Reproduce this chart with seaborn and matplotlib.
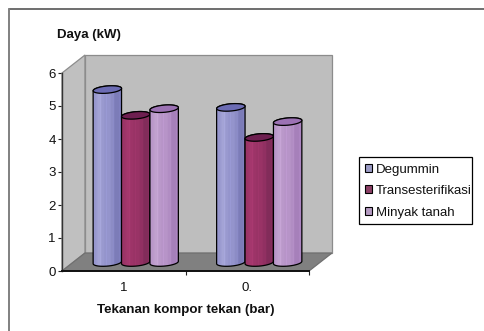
import numpy as np
import pandas as pd
import matplotlib
matplotlib.use("Agg")
import matplotlib.pyplot as plt
import matplotlib.colors as mcolors
import seaborn as sns
from matplotlib.patches import Polygon, PathPatch, Rectangle
from matplotlib.path import Path
from matplotlib.lines import Line2D
from matplotlib.transforms import IdentityTransform

pressures = ["1", "0."]
series_names = ["Degummin", "Transesterifikasi", "Minyak tanah"]
degummin = [5.24, 4.70]
transesterifikasi = [4.46, 3.79]
minyak_tanah = [4.66, 4.27]

base_colors = ["#9494CC", "#993366", "#B794C8"]
light_colors = ["#A4A4D6", "#A5386E", "#C2A2D0"]
dark_colors = ["#7C7CB8", "#822C5A", "#A680BA"]
cap_colors = ["#6C6CB4", "#6E1F50", "#9C72B4"]

sns.set_theme(style="white")
plt.rcParams["font.family"] = ["Liberation Sans", "DejaVu Sans"]

df = pd.DataFrame({
    "tekanan": pressures * 3,
    "seri": np.repeat(series_names, 2),
    "daya": degummin + transesterifikasi + minyak_tanah,
})

W, H = 484, 331
fig = plt.figure(figsize=(W / 100, H / 100), dpi=100, facecolor="white")
ax = fig.add_axes([62 / W, (H - 271) / H, (309 - 62) / W, 198 / H])
ax.patch.set_alpha(0)

sns.barplot(data=df, x="tekanan", y="daya", hue="seri", order=pressures,
            hue_order=series_names, palette=base_colors, width=0.69, gap=0,
            edgecolor="black", linewidth=0.8, ax=ax, zorder=3)
ax.set_xlim(-0.5, 1.5)
ax.set_ylim(0, 6)
fig.canvas.draw()

# Chart box: only the top and left edges fall inside the canvas
fig.add_artist(Line2D([9 / W, 1], [(H - 8.5) / H] * 2, color="#555555", lw=1.2))
fig.add_artist(Line2D([9 / W, 9 / W], [0, (H - 8.5) / H], color="#808080", lw=1.4))

# Depth of the 3D box in pixels
depth_x, depth_y = 23, 18
to_px = ax.transData.frozen().transform
x0, y0 = to_px((-0.5, 0))
x1, y1 = to_px((1.5, 6))
ident = IdentityTransform()

wall_edge = "#8C8C8C"
box_faces = [
    ([(x0, y0), (x0 + depth_x, y0 + depth_y), (x0 + depth_x, y1 + depth_y), (x0, y1)], "#C0C0C0", wall_edge),
    ([(x0 + depth_x, y0 + depth_y), (x1 + depth_x, y0 + depth_y), (x1 + depth_x, y1 + depth_y), (x0 + depth_x, y1 + depth_y)], "#BEBEBE", wall_edge),
    ([(x0, y0), (x1, y0), (x1 + depth_x, y0 + depth_y), (x0 + depth_x, y0 + depth_y)], "#808080", "#707070"),
]
for pts, face, edge in box_faces:
    ax.add_patch(Polygon(pts, closed=True, facecolor=face, edgecolor=edge, linewidth=0.9,
                         transform=ident, clip_on=False, zorder=1))

# Cylinders stand mid-way into the box, so their feet sit up and to the right
shift_x, shift_y = 12, 8.5
ell_h = 3.6
tilt = 1.2


def ellipse_points(cx, cy, rx, t):
    return np.column_stack([cx + rx * np.cos(t),
                            cy + ell_h * np.sin(t) + tilt * np.cos(t)])


for s, container in enumerate(ax.containers):
    ramp = np.array([mcolors.to_rgb(c) for c in
                     [base_colors[s], light_colors[s], base_colors[s], base_colors[s], dark_colors[s], dark_colors[s]]])
    for k, bar in enumerate(container):
        bx0, by0 = to_px((bar.get_x(), 0))
        bx1, by1 = to_px((bar.get_x() + bar.get_width(), bar.get_height()))
        bar.set_visible(False)
        bx0 += shift_x
        bx1 += shift_x
        by0 += shift_y
        by1 += shift_y
        cx, rx = (bx0 + bx1) / 2, (bx1 - bx0) / 2
        z = 4 + s * 0.1 + k

        bottom = ellipse_points(cx, by0, rx, np.linspace(np.pi, 2 * np.pi, 30))
        top_arc = ellipse_points(cx, by1, rx, np.linspace(0, np.pi, 30))
        outline = np.vstack([bottom, top_arc, bottom[:1]])
        body = Path(outline, closed=True)

        # Horizontal shading with a few faint facets
        n = 22
        idx = np.linspace(0, len(ramp) - 1, n)
        shade = np.column_stack([np.interp(idx, np.arange(len(ramp)), ramp[:, c]) for c in range(3)])
        shade[::5] = np.clip(shade[::5] * 1.04, 0, 1)
        im = ax.imshow(shade[None, :, :], extent=(bx0, bx1, by0 - ell_h - 2, by1 + ell_h + 2),
                       transform=ident, aspect="auto", interpolation="nearest",
                       zorder=z)
        clip = PathPatch(body, transform=ident, facecolor="none", edgecolor="none")
        im.set_clip_path(clip)
        ax.add_patch(PathPatch(body, transform=ident, facecolor="none", edgecolor="black",
                               linewidth=0.9, zorder=z + 0.01, clip_on=False))
        cap = ellipse_points(cx, by1, rx, np.linspace(0, 2 * np.pi, 60))
        ax.add_patch(Polygon(cap, closed=True, transform=ident, facecolor=cap_colors[s],
                             edgecolor="black", linewidth=0.9, zorder=z + 0.02, clip_on=False))

ax.set_xlim(-0.5, 1.5)
ax.set_ylim(0, 6)

ax.set_xlabel("")
ax.set_ylabel("")
for side in ("top", "right"):
    ax.spines[side].set_visible(False)
ax.spines["left"].set_color("#333333")
ax.spines["left"].set_linewidth(1.0)
ax.spines["bottom"].set_color("#111111")
ax.spines["bottom"].set_linewidth(1.4)

ax.set_yticks(range(7))
ax.tick_params(axis="y", left=True, length=3, width=0.8, color="#222222", pad=1.5,
               labelsize=9.5, labelcolor="#111111")
ax.set_xticks([0, 1], pressures)
ax.set_xticks([0.5, 1.5], minor=True)
ax.tick_params(axis="x", which="major", bottom=False, pad=2, labelsize=9.5, labelcolor="#111111")
ax.tick_params(axis="x", which="minor", bottom=True, length=3, width=0.8, color="#222222")

fig.text(88.5 / W, (H - 35) / H, "Daya (kW)", fontsize=9.5, fontweight="bold", ha="center", va="center", color="#111111")
fig.text(186 / W, (H - 310) / H, "Tekanan kompor tekan (bar)", fontsize=9.6, fontweight="bold",
         ha="center", va="center", color="#111111")

# Legend box is drawn on its own so the longest label runs right up to its edge
fig.add_artist(Rectangle((359 / W, (H - 224) / H), 113 / W, 67 / H, transform=fig.transFigure,
                         facecolor="white", edgecolor="black", linewidth=0.9, zorder=5))
handles, labels = ax.get_legend_handles_labels()
leg = fig.legend(handles, labels, loc="upper left", bbox_to_anchor=(365 / W, (H - 163.5) / H),
                 frameon=False, fontsize=9.5, handlelength=0.55, handleheight=0.55,
                 handletextpad=0.28, borderpad=0, labelspacing=0.72, borderaxespad=0,
                 labelcolor="#111111")
leg.set_zorder(6)
ax.get_legend().remove() if ax.get_legend() else None

fig.savefig("out.png", dpi=100, facecolor="white")
